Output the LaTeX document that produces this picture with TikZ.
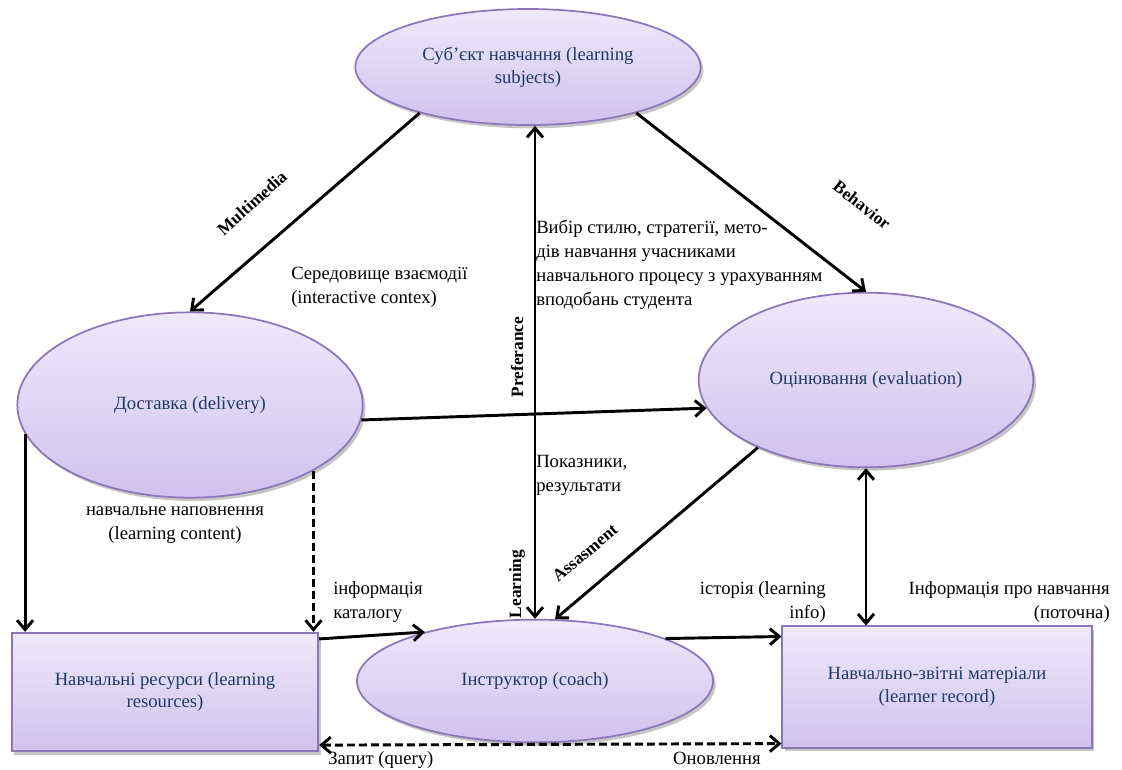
\documentclass[tikz,border=0pt]{standalone}
\usepackage{fontspec}
\setmainfont{Liberation Serif}
\usetikzlibrary{shapes.geometric, arrows.meta, shadows, calc}
\definecolor{lavtop}{HTML}{EFE9FB}
\definecolor{lavbot}{HTML}{CFC2EE}
\definecolor{lavedge}{HTML}{8A76B8}
\definecolor{inkblue}{HTML}{1F3B63}

\begin{document}
\begin{tikzpicture}[x=0.75pt,y=-0.75pt,
  blob/.style={ellipse,draw=lavedge,line width=1.3pt,top color=lavtop,bottom color=lavbot,
    drop shadow={shadow xshift=2pt,shadow yshift=-2.5pt,opacity=0.45},
    text=inkblue,font=\fontsize{14}{17}\selectfont,align=center,inner sep=0pt},
  card/.style={blob,rectangle},
  arj/.style={line width=2.2pt,-{Straight Barb[length=7pt,width=12pt]}},
  arjj/.style={arj,{Straight Barb[length=7pt,width=12pt]}-{Straight Barb[length=7pt,width=12pt]}},
  dsh/.style={dash pattern=on 6pt off 3pt},
  lbl/.style={font=\fontsize{14}{18}\selectfont,align=left,inner sep=0pt},
  tag/.style={font=\bfseries\fontsize{13}{15}\selectfont,inner sep=0pt}]
  \useasboundingbox (0,0) rectangle (1122,769);
  % main blocks
  \node[blob,minimum width=259pt,minimum height=87pt] (subj) at (528,67) {Суб’єкт навчання (learning\\ subjects)};
  \node[blob,minimum width=259pt,minimum height=139pt] (deliv) at (190,405) {Доставка (delivery)};
  \node[blob,minimum width=251pt,minimum height=131pt] (eval) at (866,380) {Оцінювання (evaluation)};
  \node[blob,minimum width=267pt,minimum height=92pt] (coach) at (535,681) {Інструктор (coach)};
  \node[card,minimum width=230pt,minimum height=89pt] (res) at (165,692) {Навчальні ресурси (learning\\ resources)};
  \node[card,minimum width=232pt,minimum height=91pt] (rec) at (937,687) {Навчально-звітні матеріали\\ (learner record)};
  % connectors
  \draw[arj] (subj.203) -- (deliv.north);
  \draw[arj] (subj.337) -- (eval.north);
  \draw[arjj] (coach.north) -- (coach.north |- subj.south);
  \draw[arj] (deliv.-5) -- (eval.190);
  \draw[arj] (eval.212) -- (coach.72);
  \draw[arjj] (eval.south) -- (eval.south |- rec.north);
  \draw[arj] (deliv.190) -- (deliv.190 |- res.north);
  \draw[arj,dsh] (deliv.-28) -- (deliv.-28 |- res.north);
  \draw[arj] (res.19) -- (coach.156);
  \draw[arj] (coach.18) -- (rec.162);
  \draw[arjj,dsh] (res.-19) -- (rec.200);
  % arrow tags
  \node[tag,rotate=42] (mm) at (252,203) {Multimedia};
  \node[tag,rotate=-38] (bh) at (862,205) {Behavior};
  \node[tag,rotate=90] (pf) at (517,357) {Preferance};
  \node[tag,rotate=90] (lrn) at (517,584) {Learning};
  \node[tag,rotate=40] (as) at (585,553) {Assasment};
  % labels
  \node[lbl,anchor=north west] (env) at (291,267) {Середовище взаємодії\\(interactive contex)};
  \node[lbl,anchor=north west] (choice) at (536,220) {Вибір стилю, стратегії, мето-\\дів навчання учасниками\\навчального процесу з урахуванням\\вподобань студента};
  \node[lbl,align=center,anchor=north] (cont) at (175,506) {навчальне наповнення\\(learning content)};
  \node[lbl,anchor=north west] (cat) at (333,581) {інформація\\каталогу};
  \node[lbl,anchor=north west] (score) at (536,455) {Показники,\\результати};
  \node[lbl,align=right,anchor=north east] (hist) at (826,581) {історія (learning\\info)};
  \node[lbl,align=right,anchor=north east] (cur) at (1110,581) {Інформація про навчання\\(поточна)\hspace{10pt}};
  \node[lbl,anchor=west] (qry) at (328,760) {Запит (query)};
  \node[lbl] (upd) at (717,758) {Оновлення};
\end{tikzpicture}
\end{document}
